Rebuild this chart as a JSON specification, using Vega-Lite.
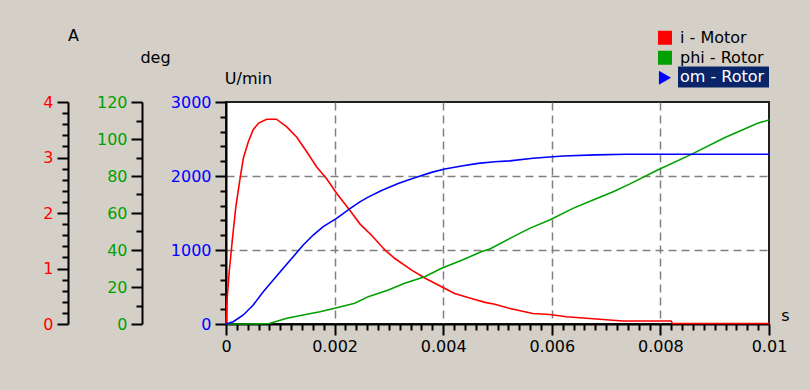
{
  "$schema": "https://vega.github.io/schema/vega-lite/v6.json",
  "width": 543,
  "height": 222,
  "autosize": {"type": "none"},
  "padding": {"left": 226, "top": 102, "right": 41, "bottom": 66},
  "background": "#d4d0c8",
  "config": {
    "view": {"fill": "white", "stroke": "#202020", "strokeWidth": 2},
    "axis": {
      "labelFont": "DejaVu Sans", "labelFontSize": 16,
      "titleFont": "DejaVu Sans", "titleFontSize": 16, "titleFontWeight": "normal", "titleColor": "black",
      "domainColor": "black", "domainWidth": 2, "tickColor": "black", "tickWidth": 2,
      "labelOverlap": false, "labelFlush": false, "titleAngle": 0, "titleAlign": "center", "titleBaseline": "middle",
      "grid": false, "labelPadding": 4
    },
    "legend": {"rowPadding": 0},
    "line": {"strokeWidth": 1.6}
  },
  "data": {"values": [
    {"series": "i - Motor", "t": 0, "v": 0},
    {"series": "i - Motor", "t": 0.00002, "v": 0.45},
    {"series": "i - Motor", "t": 0.00006, "v": 0.95},
    {"series": "i - Motor", "t": 0.00012, "v": 1.55},
    {"series": "i - Motor", "t": 0.00018, "v": 2.1},
    {"series": "i - Motor", "t": 0.00026, "v": 2.63},
    {"series": "i - Motor", "t": 0.00032, "v": 2.99},
    {"series": "i - Motor", "t": 0.00041, "v": 3.28},
    {"series": "i - Motor", "t": 0.0005, "v": 3.5},
    {"series": "i - Motor", "t": 0.0006, "v": 3.62},
    {"series": "i - Motor", "t": 0.00075, "v": 3.69},
    {"series": "i - Motor", "t": 0.00093, "v": 3.69},
    {"series": "i - Motor", "t": 0.00112, "v": 3.55},
    {"series": "i - Motor", "t": 0.0013, "v": 3.37},
    {"series": "i - Motor", "t": 0.00149, "v": 3.1},
    {"series": "i - Motor", "t": 0.00167, "v": 2.83},
    {"series": "i - Motor", "t": 0.00185, "v": 2.62},
    {"series": "i - Motor", "t": 0.00204, "v": 2.35},
    {"series": "i - Motor", "t": 0.00228, "v": 2.05},
    {"series": "i - Motor", "t": 0.00247, "v": 1.8},
    {"series": "i - Motor", "t": 0.00268, "v": 1.6},
    {"series": "i - Motor", "t": 0.00293, "v": 1.33},
    {"series": "i - Motor", "t": 0.00311, "v": 1.18},
    {"series": "i - Motor", "t": 0.00342, "v": 0.97},
    {"series": "i - Motor", "t": 0.00366, "v": 0.83},
    {"series": "i - Motor", "t": 0.00397, "v": 0.67},
    {"series": "i - Motor", "t": 0.00421, "v": 0.55},
    {"series": "i - Motor", "t": 0.00452, "v": 0.46},
    {"series": "i - Motor", "t": 0.00477, "v": 0.39},
    {"series": "i - Motor", "t": 0.00495, "v": 0.355},
    {"series": "i - Motor", "t": 0.00523, "v": 0.28},
    {"series": "i - Motor", "t": 0.00565, "v": 0.19},
    {"series": "i - Motor", "t": 0.00596, "v": 0.17},
    {"series": "i - Motor", "t": 0.00627, "v": 0.13},
    {"series": "i - Motor", "t": 0.0067, "v": 0.1},
    {"series": "i - Motor", "t": 0.00731, "v": 0.055},
    {"series": "i - Motor", "t": 0.0082, "v": 0.055},
    {"series": "i - Motor", "t": 0.00822, "v": 0.01},
    {"series": "i - Motor", "t": 0.01, "v": 0.01},
    {"series": "phi - Rotor", "t": 0, "v": 0},
    {"series": "phi - Rotor", "t": 0.0004, "v": 0},
    {"series": "phi - Rotor", "t": 0.0008, "v": 0.3},
    {"series": "phi - Rotor", "t": 0.00112, "v": 3.1},
    {"series": "phi - Rotor", "t": 0.00142, "v": 4.9},
    {"series": "phi - Rotor", "t": 0.00173, "v": 6.6},
    {"series": "phi - Rotor", "t": 0.00204, "v": 8.8},
    {"series": "phi - Rotor", "t": 0.00237, "v": 11.2},
    {"series": "phi - Rotor", "t": 0.00262, "v": 14.8},
    {"series": "phi - Rotor", "t": 0.00299, "v": 18.4},
    {"series": "phi - Rotor", "t": 0.00329, "v": 22.0},
    {"series": "phi - Rotor", "t": 0.00366, "v": 25.6},
    {"series": "phi - Rotor", "t": 0.00397, "v": 30.1},
    {"series": "phi - Rotor", "t": 0.00434, "v": 34.5},
    {"series": "phi - Rotor", "t": 0.0047, "v": 39.0},
    {"series": "phi - Rotor", "t": 0.00486, "v": 40.6},
    {"series": "phi - Rotor", "t": 0.00523, "v": 46.3},
    {"series": "phi - Rotor", "t": 0.00559, "v": 51.7},
    {"series": "phi - Rotor", "t": 0.00596, "v": 56.2},
    {"series": "phi - Rotor", "t": 0.00639, "v": 62.5},
    {"series": "phi - Rotor", "t": 0.00676, "v": 67.0},
    {"series": "phi - Rotor", "t": 0.00713, "v": 71.5},
    {"series": "phi - Rotor", "t": 0.00743, "v": 75.6},
    {"series": "phi - Rotor", "t": 0.00795, "v": 83.2},
    {"series": "phi - Rotor", "t": 0.00857, "v": 91.7},
    {"series": "phi - Rotor", "t": 0.00918, "v": 100.7},
    {"series": "phi - Rotor", "t": 0.00979, "v": 108.5},
    {"series": "phi - Rotor", "t": 0.01, "v": 110.3},
    {"series": "om - Rotor", "t": 0, "v": 0},
    {"series": "om - Rotor", "t": 0.000134, "v": 31},
    {"series": "om - Rotor", "t": 0.000318, "v": 122},
    {"series": "om - Rotor", "t": 0.000502, "v": 257},
    {"series": "om - Rotor", "t": 0.000686, "v": 437},
    {"series": "om - Rotor", "t": 0.00087, "v": 594},
    {"series": "om - Rotor", "t": 0.001054, "v": 753},
    {"series": "om - Rotor", "t": 0.001238, "v": 909},
    {"series": "om - Rotor", "t": 0.001422, "v": 1067},
    {"series": "om - Rotor", "t": 0.001606, "v": 1202},
    {"series": "om - Rotor", "t": 0.00179, "v": 1315},
    {"series": "om - Rotor", "t": 0.002037, "v": 1428},
    {"series": "om - Rotor", "t": 0.002282, "v": 1560},
    {"series": "om - Rotor", "t": 0.002466, "v": 1650},
    {"series": "om - Rotor", "t": 0.002618, "v": 1715},
    {"series": "om - Rotor", "t": 0.002865, "v": 1805},
    {"series": "om - Rotor", "t": 0.00317, "v": 1900},
    {"series": "om - Rotor", "t": 0.003477, "v": 1977},
    {"series": "om - Rotor", "t": 0.003785, "v": 2049},
    {"series": "om - Rotor", "t": 0.004029, "v": 2094},
    {"series": "om - Rotor", "t": 0.004337, "v": 2135},
    {"series": "om - Rotor", "t": 0.004642, "v": 2171},
    {"series": "om - Rotor", "t": 0.004949, "v": 2193},
    {"series": "om - Rotor", "t": 0.005225, "v": 2205},
    {"series": "om - Rotor", "t": 0.005654, "v": 2239},
    {"series": "om - Rotor", "t": 0.006206, "v": 2270},
    {"series": "om - Rotor", "t": 0.0068, "v": 2285},
    {"series": "om - Rotor", "t": 0.007373, "v": 2293},
    {"series": "om - Rotor", "t": 0.01, "v": 2293}
  ]},
  "encoding": {
    "x": {
      "field": "t", "type": "quantitative",
      "scale": {"domain": [0, 0.01], "nice": false},
      "axis": {
        "title": "s", "titleX": 559, "titleY": -9,
        "tickCount": 50,
        "labelColor": "black",
        "labelPadding": 3,
        "labelExpr": "abs(datum.value*500 - round(datum.value*500)) < 0.001 ? format(datum.value, '~g') : ''",
        "tickSize": {"condition": {"test": "abs(datum.value*500 - round(datum.value*500)) < 0.001", "value": 11}, "value": 6},
        "grid": true, "gridColor": "#808080", "gridDash": [8, 5], "gridWidth": 1.5,
        "gridOpacity": {"condition": {"test": "abs(datum.value*500 - round(datum.value*500)) < 0.001 && datum.value > 0.0001 && datum.value < 0.0099", "value": 1}, "value": 0}
      }
    }
  },
  "layer": [
    {
      "transform": [{"filter": "datum.series === 'i - Motor'"}],
      "mark": {"type": "line", "color": "#ff0000"},
      "encoding": {
        "y": {
          "field": "v", "type": "quantitative",
          "scale": {"domain": [0, 4], "nice": false},
          "axis": {
            "orient": "left", "offset": 158, "title": "A", "titleX": 5, "titleY": -67,
            "tickCount": 20, "labelColor": "#ff0000",
            "labelExpr": "abs(datum.value - round(datum.value)) < 0.001 ? format(datum.value, 'd') : ''",
            "tickSize": {"condition": {"test": "abs(datum.value - round(datum.value)) < 0.001", "value": 11}, "value": 6}
          }
        }
      }
    },
    {
      "transform": [{"filter": "datum.series === 'phi - Rotor'"}],
      "mark": {"type": "line", "color": "#00a000"},
      "encoding": {
        "y": {
          "field": "v", "type": "quantitative",
          "scale": {"domain": [0, 120], "nice": false},
          "axis": {
            "orient": "left", "offset": 84, "title": "deg", "titleX": 13, "titleY": -45,
            "tickCount": 12, "labelColor": "#00a000",
            "labelExpr": "datum.value % 20 === 0 ? format(datum.value, 'd') : ''",
            "tickSize": {"condition": {"test": "datum.value % 20 === 0", "value": 11}, "value": 6}
          }
        }
      }
    },
    {
      "transform": [{"filter": "datum.series === 'om - Rotor'"}],
      "mark": {"type": "line", "color": "#0000ff"},
      "encoding": {
        "y": {
          "field": "v", "type": "quantitative",
          "scale": {"domain": [0, 3000], "nice": false},
          "axis": {
            "orient": "left", "offset": 0, "title": "U/min", "titleX": 22, "titleY": -24,
            "tickCount": 15, "labelColor": "#0000ff",
            "labelExpr": "datum.value % 1000 === 0 ? format(datum.value, 'd') : ''",
            "tickSize": {"condition": {"test": "datum.value % 1000 === 0", "value": 11}, "value": 6},
            "grid": true, "gridColor": "#808080", "gridDash": [8, 5], "gridWidth": 1.5,
            "gridOpacity": {"condition": {"test": "datum.value === 1000 || datum.value === 2000", "value": 1}, "value": 0}
          }
        }
      }
    },
    {
      "mark": {"type": "point", "filled": true, "opacity": 0},
      "encoding": {
        "color": {
          "field": "series", "type": "nominal",
          "scale": {"domain": ["i - Motor", "phi - Rotor", "om - Rotor"], "range": ["#ff0000", "#00a000", "#0000ff"]},
          "legend": {
            "orient": "none", "legendX": 431, "legendY": -74, "title": null,
            "symbolSize": 196, "symbolOpacity": 1, "symbolStrokeWidth": 0,
            "labelFont": "DejaVu Sans", "labelFontSize": 16, "labelColor": "black",
            "labelOffset": 7, "rowPadding": 0, "clipHeight": 19.5, "padding": 0,
            "labelExpr": "datum.label === 'om - Rotor' ? '' : datum.label"
          }
        },
        "shape": {
          "field": "series", "type": "nominal",
          "scale": {"domain": ["i - Motor", "phi - Rotor", "om - Rotor"], "range": ["square", "square", "triangle-right"]},
          "legend": {
            "orient": "none", "legendX": 431, "legendY": -74, "title": null,
            "symbolSize": 196, "symbolOpacity": 1, "symbolStrokeWidth": 0,
            "labelFont": "DejaVu Sans", "labelFontSize": 16, "labelColor": "black",
            "labelOffset": 7, "rowPadding": 0, "clipHeight": 19.5, "padding": 0,
            "labelExpr": "datum.label === 'om - Rotor' ? '' : datum.label"
          }
        }
      }
    },
    {
      "transform": [{"filter": "datum.series === 'om - Rotor'"}],
      "mark": {"type": "point", "filled": true, "opacity": 0, "color": "#0a246a"},
      "encoding": {
        "strokeDash": {
          "field": "series", "type": "nominal",
          "scale": {"domain": ["om - Rotor"], "range": [[1, 0]]},
          "legend": {
            "orient": "none", "legendX": 442, "legendY": -35, "title": null,
            "symbolType": "M0,-1.05H9.1V1.05H0Z", "symbolSize": 400, "symbolOpacity": 1,
            "symbolStrokeWidth": 0, "symbolFillColor": "#0a246a",
            "labelFont": "DejaVu Sans", "labelFontSize": 16, "labelColor": "white",
            "labelOffset": -8, "padding": 0
          }
        }
      }
    }
  ],
  "resolve": {"scale": {"y": "independent"}}
}
